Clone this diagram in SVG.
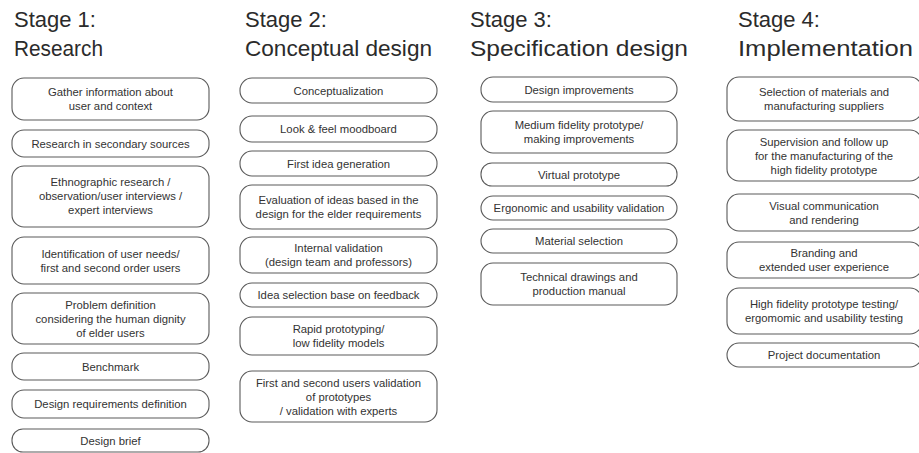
<svg xmlns="http://www.w3.org/2000/svg" width="919" height="453" viewBox="0 0 919 453">
  <style>
    .title { font-family: "Liberation Sans", Arial, sans-serif; font-size: 22px; fill: #2b2b2b; }
    .box { fill: #ffffff; stroke: #5a5a5a; stroke-width: 1.1; }
    .lbl { font-family: "Liberation Sans", Arial, sans-serif; font-size: 11.3px; fill: #333333; text-anchor: middle; }
  </style>
  <rect width="919" height="453" fill="#ffffff"/>

  <!-- Stage headings -->
  <g id="heading-1">
    <text class="title" x="14" y="27">Stage 1:</text>
    <text class="title" x="14" y="56" textLength="89" lengthAdjust="spacingAndGlyphs">Research</text>
  </g>
  <g id="heading-2">
    <text class="title" x="245" y="27">Stage 2:</text>
    <text class="title" x="245" y="56" textLength="187" lengthAdjust="spacingAndGlyphs">Conceptual design</text>
  </g>
  <g id="heading-3">
    <text class="title" x="470" y="27">Stage 3:</text>
    <text class="title" x="470" y="56" textLength="218" lengthAdjust="spacingAndGlyphs">Specification design</text>
  </g>
  <g id="heading-4">
    <text class="title" x="738" y="27">Stage 4:</text>
    <text class="title" x="738" y="56" textLength="175" lengthAdjust="spacingAndGlyphs">Implementation</text>
  </g>

  <!-- Stage 1: Research -->
  <g id="s1-gather">
    <rect class="box" x="12" y="78" width="197" height="42" rx="12"/>
    <text class="lbl" x="110.5" y="96">Gather information about</text>
    <text class="lbl" x="110.5" y="110">user and context</text>
  </g>
  <g id="s1-secondary">
    <rect class="box" x="12" y="130" width="197" height="27" rx="12"/>
    <text class="lbl" x="110.5" y="147.5">Research in secondary sources</text>
  </g>
  <g id="s1-ethnographic">
    <rect class="box" x="12" y="166" width="197" height="61" rx="12"/>
    <text class="lbl" x="110.5" y="186">Ethnographic research /</text>
    <text class="lbl" x="110.5" y="200">observation/user interviews /</text>
    <text class="lbl" x="110.5" y="214">expert interviews</text>
  </g>
  <g id="s1-needs">
    <rect class="box" x="12" y="237" width="197" height="47" rx="12"/>
    <text class="lbl" x="110.5" y="257.5">Identification of user needs/</text>
    <text class="lbl" x="110.5" y="271.5">first and second order users</text>
  </g>
  <g id="s1-problem">
    <rect class="box" x="12" y="293" width="197" height="51" rx="12"/>
    <text class="lbl" x="110.5" y="308.5">Problem definition</text>
    <text class="lbl" x="110.5" y="322.5">considering the human dignity</text>
    <text class="lbl" x="110.5" y="336.5">of elder users</text>
  </g>
  <g id="s1-benchmark">
    <rect class="box" x="12" y="353" width="197" height="27" rx="12"/>
    <text class="lbl" x="110.5" y="370.5">Benchmark</text>
  </g>
  <g id="s1-requirements">
    <rect class="box" x="12" y="390" width="197" height="28" rx="12"/>
    <text class="lbl" x="110.5" y="408">Design requirements definition</text>
  </g>
  <g id="s1-brief">
    <rect class="box" x="12" y="429" width="197" height="23" rx="11"/>
    <text class="lbl" x="110.5" y="444.5">Design brief</text>
  </g>

  <!-- Stage 2: Conceptual design -->
  <g id="s2-conceptualization">
    <rect class="box" x="240" y="78" width="197" height="25" rx="12"/>
    <text class="lbl" x="338.5" y="94.5">Conceptualization</text>
  </g>
  <g id="s2-moodboard">
    <rect class="box" x="240" y="116" width="197" height="26" rx="12"/>
    <text class="lbl" x="338.5" y="133">Look &amp; feel moodboard</text>
  </g>
  <g id="s2-ideas">
    <rect class="box" x="240" y="151" width="197" height="25" rx="12"/>
    <text class="lbl" x="338.5" y="167.5">First idea generation</text>
  </g>
  <g id="s2-evaluation">
    <rect class="box" x="240" y="185" width="197" height="44" rx="12"/>
    <text class="lbl" x="338.5" y="204">Evaluation of ideas based in the</text>
    <text class="lbl" x="338.5" y="218">design for the elder requirements</text>
  </g>
  <g id="s2-internal">
    <rect class="box" x="240" y="237" width="197" height="36" rx="12"/>
    <text class="lbl" x="338.5" y="252">Internal validation</text>
    <text class="lbl" x="338.5" y="266">(design team and professors)</text>
  </g>
  <g id="s2-selection">
    <rect class="box" x="240" y="283" width="197" height="24" rx="12"/>
    <text class="lbl" x="338.5" y="299">Idea selection base on feedback</text>
  </g>
  <g id="s2-rapid">
    <rect class="box" x="240" y="317" width="197" height="38" rx="12"/>
    <text class="lbl" x="338.5" y="333">Rapid prototyping/</text>
    <text class="lbl" x="338.5" y="347">low fidelity models</text>
  </g>
  <g id="s2-validation">
    <rect class="box" x="240" y="371" width="197" height="51" rx="12"/>
    <text class="lbl" x="338.5" y="386.5">First and second users validation</text>
    <text class="lbl" x="338.5" y="400.5">of prototypes</text>
    <text class="lbl" x="338.5" y="414.5">/ validation with experts</text>
  </g>

  <!-- Stage 3: Specification design -->
  <g id="s3-improvements">
    <rect class="box" x="481" y="77" width="196" height="25" rx="12"/>
    <text class="lbl" x="579" y="93.5">Design improvements</text>
  </g>
  <g id="s3-medium">
    <rect class="box" x="481" y="111" width="196" height="42" rx="12"/>
    <text class="lbl" x="579" y="129">Medium fidelity prototype/</text>
    <text class="lbl" x="579" y="143">making improvements</text>
  </g>
  <g id="s3-virtual">
    <rect class="box" x="481" y="163" width="196" height="23" rx="11"/>
    <text class="lbl" x="579" y="178.5">Virtual prototype</text>
  </g>
  <g id="s3-ergonomic">
    <rect class="box" x="481" y="196" width="196" height="24" rx="12"/>
    <text class="lbl" x="579" y="212">Ergonomic and usability validation</text>
  </g>
  <g id="s3-material">
    <rect class="box" x="481" y="229" width="196" height="24" rx="12"/>
    <text class="lbl" x="579" y="245">Material selection</text>
  </g>
  <g id="s3-technical">
    <rect class="box" x="481" y="263" width="196" height="42" rx="12"/>
    <text class="lbl" x="579" y="281">Technical drawings and</text>
    <text class="lbl" x="579" y="295">production manual</text>
  </g>

  <!-- Stage 4: Implementation -->
  <g id="s4-suppliers">
    <rect class="box" x="727" y="77" width="195" height="44" rx="12"/>
    <text class="lbl" x="824" y="96">Selection of materials and</text>
    <text class="lbl" x="824" y="110">manufacturing suppliers</text>
  </g>
  <g id="s4-supervision">
    <rect class="box" x="727" y="130" width="195" height="51" rx="12"/>
    <text class="lbl" x="824" y="145.5">Supervision and follow up</text>
    <text class="lbl" x="824" y="159.5">for the manufacturing of the</text>
    <text class="lbl" x="824" y="173.5">high fidelity prototype</text>
  </g>
  <g id="s4-visual">
    <rect class="box" x="727" y="194" width="195" height="37" rx="12"/>
    <text class="lbl" x="824" y="209.5">Visual communication</text>
    <text class="lbl" x="824" y="223.5">and rendering</text>
  </g>
  <g id="s4-branding">
    <rect class="box" x="727" y="242" width="195" height="36" rx="12"/>
    <text class="lbl" x="824" y="257">Branding and</text>
    <text class="lbl" x="824" y="271">extended user experience</text>
  </g>
  <g id="s4-testing">
    <rect class="box" x="727" y="288" width="195" height="46" rx="12"/>
    <text class="lbl" x="824" y="308">High fidelity prototype testing/</text>
    <text class="lbl" x="824" y="322">ergomomic and usability testing</text>
  </g>
  <g id="s4-documentation">
    <rect class="box" x="727" y="343" width="195" height="24" rx="12"/>
    <text class="lbl" x="824" y="359">Project documentation</text>
  </g>

  <!-- No connectors are drawn between the steps -->
  <g id="connectors"/>
</svg>
